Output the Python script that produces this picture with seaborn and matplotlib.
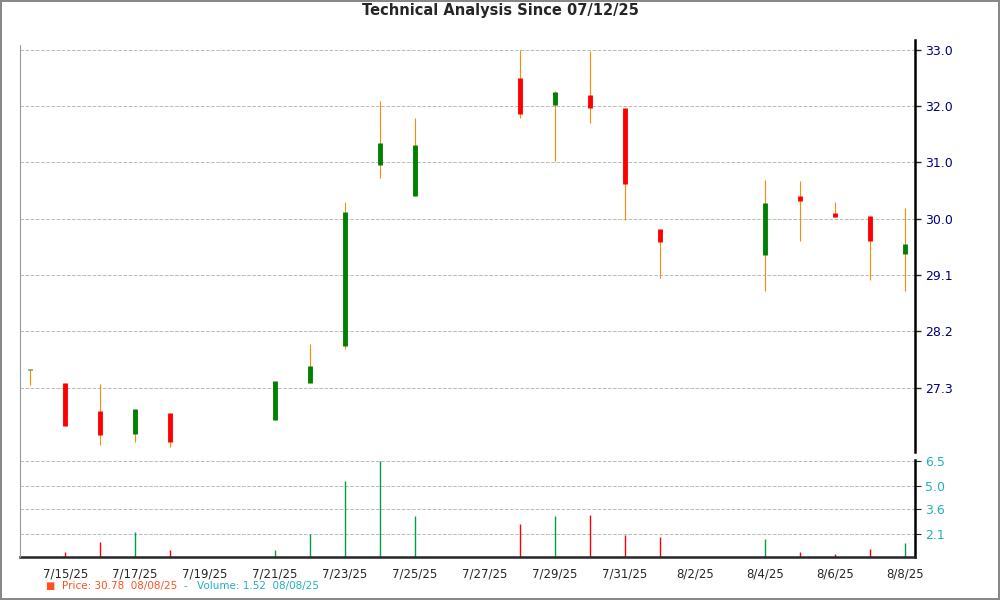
import numpy as np
import pandas as pd
import seaborn as sns
import matplotlib.pyplot as plt
import matplotlib.dates as mdates

# Daily values
dates = ["2025-07-14", "2025-07-15", "2025-07-16", "2025-07-17", "2025-07-18",
         "2025-07-21", "2025-07-22", "2025-07-23", "2025-07-24", "2025-07-25",
         "2025-07-28", "2025-07-29", "2025-07-30", "2025-07-31", "2025-08-01",
         "2025-08-04", "2025-08-05", "2025-08-06", "2025-08-07", "2025-08-08"]
opens = [27.60, 27.38, 26.90, 26.52, 26.88, 26.76, 27.38, 28.01, 31.05, 30.53,
         32.52, 32.06, 32.23, 32.01, 29.98, 29.53, 30.53, 30.25, 30.20, 29.55]
closes = [27.60, 26.66, 26.51, 26.94, 26.38, 27.41, 27.67, 30.26, 31.42, 31.40,
          31.92, 32.28, 32.02, 30.74, 29.75, 30.42, 30.45, 30.18, 29.78, 29.73]
highs = [27.60, 27.38, 27.36, 26.74, 26.88, 27.41, 28.03, 30.43, 32.14, 31.85,
         33.00, 32.31, 32.97, 32.01, 29.98, 30.80, 30.78, 30.43, 30.20, 30.33]
lows = [27.35, 26.66, 26.33, 26.39, 26.30, 26.76, 27.38, 27.95, 30.84, 30.53,
        31.85, 31.13, 31.76, 30.12, 29.15, 28.93, 29.77, 30.18, 29.12, 28.93]
volumes = [0.0, 1.0, 1.6, 2.2, 1.1, 1.1, 2.1, 5.3, 6.5, 3.2,
           2.7, 3.2, 3.25, 2.0, 1.9, 1.8, 1.0, 0.85, 1.2, 1.55]

price_ticks = [27.3, 28.25, 29.2, 30.15, 31.1, 32.05, 33.0]
price_labels = ["27.3", "28.2", "29.1", "30.0", "31.0", "32.0", "33.0"]
vol_ticks = [2.1, 3.6, 5.0, 6.5]

df = pd.DataFrame({"date": pd.to_datetime(dates), "open": opens, "close": closes,
                   "high": highs, "low": lows, "volume": volumes})
df["up"] = df["close"] >= df["open"]

sns.set_style("white")
plt.rcParams["font.family"] = ["DejaVu Sans"]

fig = plt.figure(figsize=(10, 6), dpi=100)
ax = fig.add_axes([0.02, 0.247, 0.895, 0.686])
axv = fig.add_axes([0.02, 0.072, 0.895, 0.161], sharex=ax)

wick = "#FF8C00"
ax.vlines(df["date"], df["low"], df["high"], color=wick, linewidth=0.8)
body_col = np.where(df["up"], "#008000", "#FF0000")
lo = np.minimum(df["open"], df["close"])
hi = np.maximum(df["open"], df["close"])
flat = hi - lo < 0.02
ax.vlines(df["date"], lo, np.where(flat, lo + 0.02, hi), color=body_col, linewidth=3.5)

ax.set_ylim(26.22, 33.16)
ax.set_yticks(price_ticks)
ax.set_yticklabels(price_labels)
ax.yaxis.tick_right()
ax.tick_params(axis="y", labelsize=9, length=4, width=1,
               direction="out", labelcolor="#000080")
ax.tick_params(axis="x", bottom=False, labelbottom=False)
ax.grid(axis="y", color="#bbbbbb", linestyle="--", linewidth=0.7)

vcol = np.where(df["up"], "#00A040", "#FF0000")
axv.vlines(df["date"], 0, df["volume"], color=vcol, linewidth=1)
axv.set_ylim(0.7, 6.55)
axv.set_yticks(vol_ticks)
axv.yaxis.tick_right()
axv.tick_params(axis="y", labelcolor="#20B0C0", labelsize=9, length=4, direction="out")
axv.grid(axis="y", color="#bbbbbb", linestyle="--", linewidth=0.7)

axv.set_xlim(pd.Timestamp("2025-07-13 17:00"), pd.Timestamp("2025-08-08 07:00"))
axv.xaxis.set_major_locator(mdates.DayLocator(bymonthday=[15, 17, 19, 21, 23, 25, 27, 29, 31, 2, 4, 6, 8]))
axv.xaxis.set_major_formatter(mdates.DateFormatter("%-m/%-d/%y"))
axv.tick_params(axis="x", labelsize=8.5, length=4, direction="out")

for a in (ax, axv):
    a.spines["top"].set_visible(False)
    a.spines["left"].set_visible(False)
    a.spines["right"].set_linewidth(1.8)
    a.spines["right"].set_color("black")
    a.set_facecolor("white")
ax.spines["bottom"].set_visible(False)
axv.spines["bottom"].set_linewidth(1.8)
fig.add_artist(plt.Line2D([0.02, 0.02], [0.072, 0.925], color="#999999", linewidth=0.8))

fig.suptitle("Technical Analysis Since 07/12/25", y=0.995, fontsize=10.5, fontweight="bold")
fig.text(0.045, 0.018, "\u25A0", color="#FF5020", fontsize=7)
fig.text(0.062, 0.018, "Price: 30.78  08/08/25", color="#FF5020", fontsize=7.5)
fig.text(0.183, 0.018, "-", color="#20B0C0", fontsize=7.5)
fig.text(0.197, 0.018, "Volume: 1.52  08/08/25", color="#20B0C0", fontsize=7.5)

fig.patch.set_edgecolor("#888888")
fig.patch.set_linewidth(1.5)
fig.savefig("out.png", dpi=100, edgecolor=fig.get_edgecolor())
